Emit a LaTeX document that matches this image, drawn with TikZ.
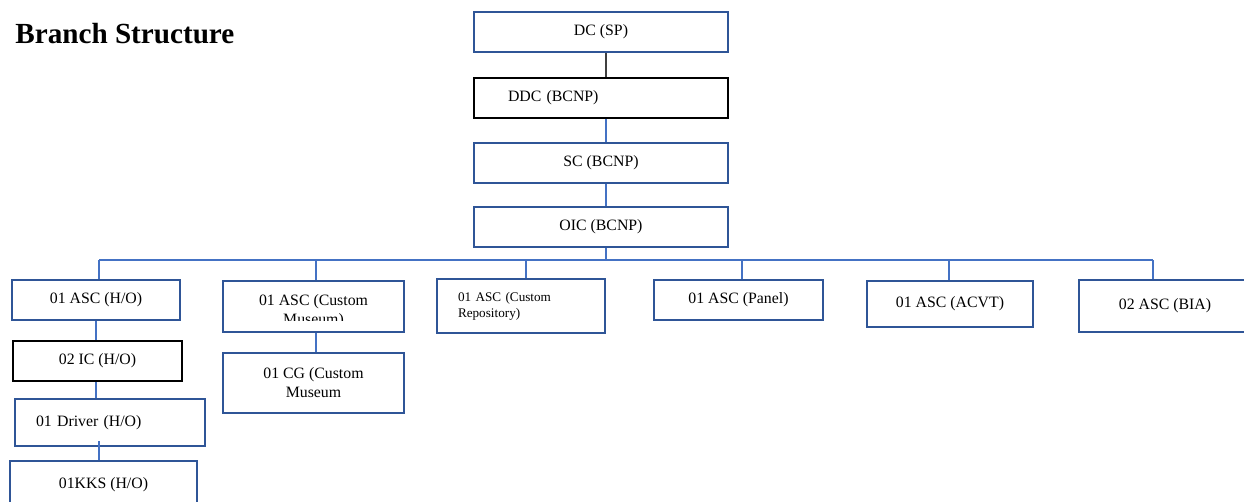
\documentclass[tikz,border=0pt]{standalone}
\usepackage{fontspec}
\setmainfont{Liberation Serif}
\definecolor{boxblue}{HTML}{2F5597}
\definecolor{lineblue}{HTML}{4472C4}
\tikzset{
  box/.style={draw=boxblue, line width=1.4pt, fill=white, inner sep=0pt, align=center, font=\fontsize{9}{10.8}\selectfont},
  blackbox/.style={box, draw=black},
  link/.style={draw=lineblue, line width=0.6pt},
}

\begin{document}
\begin{tikzpicture}[x=0.02cm, y=-0.02cm]
	\useasboundingbox (0,0) rectangle (1244,501);
	\clip (0,0) rectangle (1244,501);
	
	% Title
	\node[anchor=base west, inner sep=0pt, font=\fontsize{16.6}{20}\selectfont\bfseries] (title) at (15,43) {Branch Structure};
	
	% Top chain
	\node[box, minimum width=5.08cm, minimum height=0.8cm] (dc) at (601,32) {DC (SP)};
	\node[blackbox, minimum height=0.8cm, text width=3.72cm, inner xsep=0.68cm, align=left] (ddc) at (601,98) {DDC (BCNP)};
	\node[box, minimum width=5.08cm, minimum height=0.8cm] (sc) at (601,163) {SC (BCNP)};
	\node[box, minimum width=5.08cm, minimum height=0.8cm] (oic) at (601,227) {OIC (BCNP)};
	
	\coordinate (spine) at (606,0);
	\coordinate (bus) at (0,260);
	\draw[black!75, line width=0.8pt] (dc.south -| spine) -- (ddc.north -| spine);
	\draw[link] (ddc.south -| spine) -- (sc.north -| spine);
	\draw[link] (sc.south -| spine) -- (oic.north -| spine);
	\draw[link] (oic.south -| spine) -- (spine |- bus);
	
	% Sections
	\node[box, minimum width=3.36cm, minimum height=0.8cm] (asc1) at (96,300) {01 ASC (H/O)};
	\node[box, minimum width=3.62cm, minimum height=1.02cm] (asc2) at (313.5,306.5) {\rule{0pt}{12pt}01 ASC (Custom\\Museum)};
	\node[box, minimum height=1.08cm, text width=2.52cm, inner xsep=0.42cm, align=left, font=\fontsize{7.5}{9}\selectfont] (asc3) at (521,306) {01 ASC (Custom\\Repository)};
	\node[box, minimum width=3.38cm, minimum height=0.8cm] (asc4) at (738.5,300) {01 ASC (Panel)};
	\node[box, minimum width=3.32cm, minimum height=0.92cm] (asc5) at (950,304) {01 ASC (ACVT)};
	\node[box, minimum width=3.44cm, minimum height=1.04cm] (asc6) at (1165,306) {02 ASC (BIA)};
	
	% cut off the second line of Custom Museum
	\fill[white] (226,321) rectangle (401,330.4);
	
	\foreach \n/\x in {asc1/99, asc2/316, asc3/526, asc4/742, asc5/949, asc6/1153} {
		\coordinate (\n-drop) at (\x,260);
		\draw[link] (\n-drop) -- (\n-drop |- \n.north);
	}
	\draw[link] (asc1-drop) -- (asc6-drop);
	
	% H/O column
	\node[blackbox, minimum width=3.38cm, minimum height=0.8cm] (ic) at (97.5,361) {02 IC (H/O)};
	\node[box, minimum height=0.94cm, text width=2.96cm, inner xsep=0.42cm, align=left] (driver) at (110,422.5) {01 Driver (H/O)};
	\node[box, minimum width=3.74cm, minimum height=0.96cm] (kks) at (103.5,485) {01KKS (H/O)};
	\draw[link] (asc1.south) -- (ic.north -| asc1.south);
	\draw[link] (ic.south -| asc1.south) -- (driver.north -| asc1.south);
	\draw[link] ([yshift=0.12cm]driver.south -| asc1-drop) -- (kks.north -| asc1-drop);
	
	% Custom Museum column
	\node[box, minimum width=3.62cm, minimum height=1.2cm] (cg) at (313.5,383) {01 CG (Custom\\Museum};
	\draw[link] (asc2.south -| asc2-drop) -- (cg.north -| asc2-drop);
	
\end{tikzpicture}
\end{document}
